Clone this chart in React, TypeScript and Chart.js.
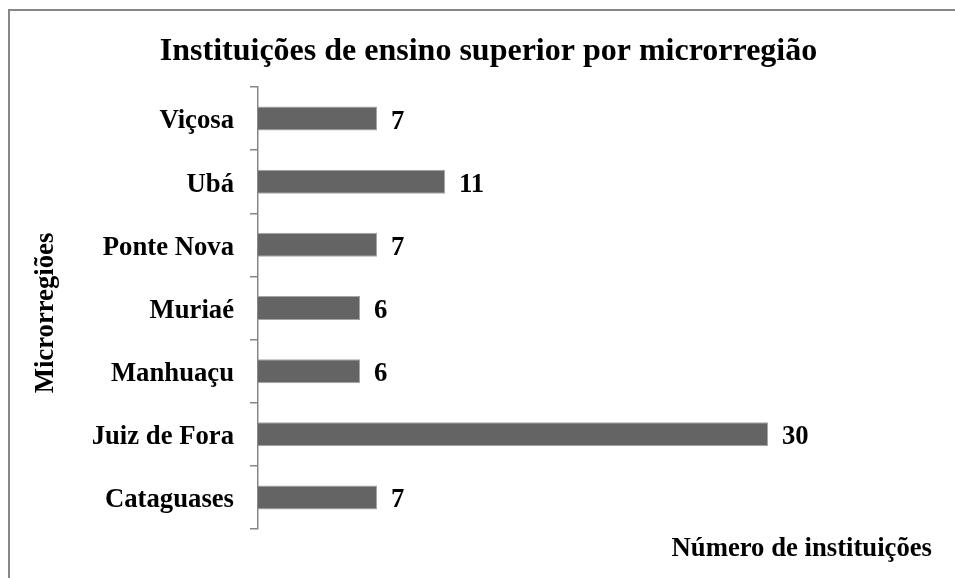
import React, { useEffect, useRef } from "react";
import { Chart, registerables } from "chart.js";

Chart.register(...registerables);

const categories = ["Viçosa", "Ubá", "Ponte Nova", "Muriaé", "Manhuaçu", "Juiz de Fora", "Cataguases"];
const values = [7, 11, 7, 6, 6, 30, 7];
const chartTitle = "Instituições de ensino superior por microrregião";
const xTitle = "Número de instituições";
const yTitle = "Microrregiões";

const FONT = '"Liberation Serif", "Times New Roman", serif';

const decorPlugin = {
  id: "decor",
  afterDraw(chart: any) {
    const ctx = chart.ctx;
    ctx.save();
    // outer frame (top & left visible)
    ctx.fillStyle = "#878787";
    ctx.fillRect(8, 9, 955, 2);
    ctx.fillRect(8, 9, 2, 578);
    ctx.fillStyle = "#000000";
    // main title
    ctx.font = `bold 32px ${FONT}`;
    ctx.textAlign = "center";
    ctx.textBaseline = "alphabetic";
    ctx.fillText(chartTitle, 488.5, 60);
    // x title
    ctx.font = `bold 26.7px ${FONT}`;
    ctx.textAlign = "right";
    ctx.fillText(xTitle, 932, 556);
    // y title
    ctx.save();
    ctx.translate(53, (chart.chartArea.top + chart.chartArea.bottom) / 2 + 5);
    ctx.rotate(-Math.PI / 2);
    ctx.textAlign = "center";
    ctx.fillText(yTitle, 0, 0);
    ctx.restore();
    // value labels
    const meta = chart.getDatasetMeta(0);
    ctx.textAlign = "left";
    meta.data.forEach((bar: any, i: number) => {
      ctx.fillText(String(values[i]), bar.x + 14, bar.y + 10);
    });
    ctx.restore();
  },
};

export default function App() {
  const ref = useRef<HTMLCanvasElement>(null);
  useEffect(() => {
    document.body.style.overflow = "hidden";
    const chart = new Chart(ref.current!, {
      type: "bar",
      data: {
        labels: categories,
        datasets: [
          {
            data: values,
            backgroundColor: "#646464",
            borderColor: "#a6a6a6",
            borderWidth: 1,
            barPercentage: 0.38,
            categoryPercentage: 1,
          },
        ],
      },
      options: {
        indexAxis: "y",
        animation: false,
        responsive: false,
        layout: { padding: { left: 0, top: 87, right: 955 - 853, bottom: 578 - 529 } },
        plugins: { legend: { display: false }, tooltip: { enabled: false }, title: { display: false } },
        scales: {
          x: { display: false, min: 0, max: 35 },
          y: {
            afterFit: (scale: any) => {
              scale.width = 258;
            },
            border: { display: true, color: "#878787", width: 1.5 },
            grid: {
              offset: true,
              drawOnChartArea: false,
              drawTicks: true,
              tickLength: 8,
              color: "#878787",
              lineWidth: 1.5,
            },
            ticks: {
              color: "#000000",
              padding: 16,
              labelOffset: 3,
              font: { family: FONT, size: 26.7, weight: "bold" },
            },
          },
        },
      },
      plugins: [decorPlugin],
    });
    return () => chart.destroy();
  }, []);
  return (
    <div style={{ position: "fixed", left: 0, top: 0, width: 955, height: 578, background: "#fff" }}>
      <canvas ref={ref} width={955} height={578} style={{ display: "block" }} />
    </div>
  );
}
